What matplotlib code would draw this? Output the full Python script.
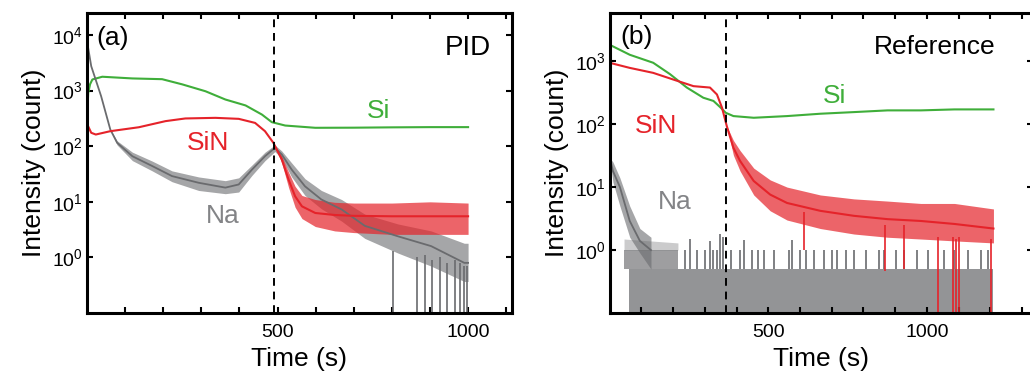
import matplotlib.pyplot as plt
from matplotlib.ticker import NullLocator

plt.rcParams['font.family'] = ['Liberation Sans', 'DejaVu Sans']

GREEN = '#3fae3a'
RED = '#e5232a'
GRAY = '#6a6b6e'

# ---------------- panel (a) : PID ----------------
si_a_t = [0, 3, 8, 14, 40, 119, 197, 250, 311, 363, 416, 459, 485, 520, 599, 700, 800, 900, 1000]
si_a = [300, 900, 1300, 1580, 1770, 1650, 1600, 1290, 970, 690, 540, 370, 270, 235, 214, 215, 218, 220, 220]

sin_a_t = [0, 2, 11, 23, 61, 136, 206, 258, 337, 398, 441, 467, 489, 511, 529, 546, 564, 599, 650, 700, 800, 900, 1000]
sin_a = [20, 235, 174, 162, 186, 219, 282, 315, 323, 310, 262, 186, 115, 58, 25, 12.6, 8.3, 6.3, 5.8, 5.6, 5.5, 5.5, 5.5]
sin_a_lo = [20, 235, 174, 162, 186, 219, 282, 315, 323, 310, 262, 186, 115, 50, 18, 8, 5, 3.6, 3.0, 2.8, 2.6, 2.6, 2.6]
sin_a_hi = [20, 235, 174, 162, 186, 219, 282, 315, 323, 310, 262, 186, 115, 66, 34, 19, 13, 11, 9.8, 9.5, 9.5, 10, 9.5]

na_a_t = [0, 11, 37, 61, 79, 119, 171, 223, 293, 363, 398, 433, 467, 493, 511, 537, 572, 615, 668, 729, 816, 903, 990, 1000]
na_a = [7700, 2740, 790, 200, 115, 66, 44, 29, 22, 18, 20.5, 38, 66, 93, 71, 38, 19, 11, 7.3, 3.7, 2.4, 1.6, 0.8, 0.8]
na_a_lo = [7700, 2740, 790, 200, 105, 55, 36, 23, 16, 14, 15, 30, 55, 80, 60, 28, 13, 7.5, 4.5, 2.2, 1.2, 0.7, 0.37, 0.37]
na_a_hi = [7700, 2740, 790, 200, 125, 78, 54, 36, 28, 24, 27, 46, 78, 105, 82, 50, 26, 16, 11, 6, 4, 3, 1.8, 1.8]
# points where the Na trace drops to zero counts
na_a_drop_t = [804, 865, 887, 904, 926, 944, 966, 979, 988, 997]
na_a_drop_top = [1.3, 1.0, 1.1, 0.9, 1.0, 0.8, 0.9, 0.8, 0.7, 0.7]
dash_a = 490

# ---------------- panel (b) : Reference ----------------
si_b_t = [0, 8, 63, 137, 190, 243, 295, 327, 348, 366, 390, 454, 559, 664, 770, 876, 981, 1087, 1210]
si_b = [1800, 1730, 1260, 940, 620, 380, 262, 233, 186, 151, 134, 126, 134, 146, 155, 165, 165, 171, 171]

sin_b_t = [0, 3, 63, 137, 200, 264, 316, 338, 354, 369, 390, 411, 454, 506, 559, 664, 770, 876, 981, 1087, 1210]
sin_b = [250, 930, 780, 650, 510, 400, 380, 295, 182, 93, 42, 26, 12.5, 7.6, 5.6, 4.2, 3.5, 3.1, 2.9, 2.6, 2.2]
sin_b_lo = [250, 930, 780, 650, 510, 400, 380, 295, 182, 93, 32, 18, 7.5, 4.2, 3.0, 2.2, 1.8, 1.6, 1.5, 1.4, 1.3]
sin_b_hi = [250, 930, 780, 650, 510, 400, 380, 295, 182, 93, 55, 38, 20, 13, 10, 7.5, 6.5, 6.0, 5.5, 5.5, 4.5]
sin_b_drop_t = [612, 867, 927, 1035, 1082, 1092, 1101, 1203]
sin_b_drop_bot = [1.0, 0.47, 0.5, 0.1, 0.1, 0.1, 0.1, 0.1]
sin_b_drop_top = [4, 2.5, 2.5, 1.6, 1.6, 1.5, 1.6, 1.5]

na_b_t = [0, 10, 32, 63, 95, 130]
na_b = [29, 18, 10, 2.9, 1.4, 1.0]
na_b_lo = [29, 12, 5, 1.6, 0.9, 0.5]
na_b_hi = [29, 25, 14, 5, 2.2, 1.6]
# zero / half-count floor of the Na trace and its spikes to one count
na_b_floor_t = [60, 1210]
na_b_floor = [0.5, 0.5]
na_b_dense_t = [45, 215]
na_b_dense = [1.0, 1.0]
na_b_upper = [1.5, 1.3]
na_b_spike_t = [237, 253, 275, 301, 316, 326, 339, 348, 358, 383, 411, 424, 448, 469, 485, 517, 564, 575, 601,
                620, 643, 675, 701, 717, 744, 770, 807, 849, 865, 902, 928, 970, 1003, 1055, 1086, 1129, 1171, 1192]
na_b_spike_top = [1.0, 1.5, 1.0, 1.0, 1.4, 1.0, 1.0, 1.8, 1.6, 1.0, 1.0, 1.45, 1.0, 1.0, 1.0, 1.0, 1.0, 1.45, 1.0,
                  1.0, 1.0, 1.0, 1.0, 1.0, 1.0, 1.0, 1.0, 1.0, 1.0, 1.0, 1.0, 1.0, 1.0, 1.0, 1.0, 1.0, 1.0, 1.0]
dash_b = 367

x_ticks = [100, 200, 300, 400, 500, 600, 700, 800, 900, 1000, 1100, 1200, 1300]
x_labels = ['', '', '', '', '500', '', '', '', '', '1000', '', '', '']
y_ticks = [1, 10, 100, 1000, 10000]
y_labels = [r'$\mathregular{10^{0}}$', r'$\mathregular{10^{1}}$', r'$\mathregular{10^{2}}$',
            r'$\mathregular{10^{3}}$', r'$\mathregular{10^{4}}$']

fig = plt.figure(figsize=(10.3, 3.88), dpi=100)
ax_a = fig.add_axes([0.0845, 0.193, 0.4125, 0.773])
ax_b = fig.add_axes([0.592, 0.193, 0.411, 0.773])


def style(ax, xmax, ytop):
    ax.set_yscale('log')
    ax.set_xticks(x_ticks, x_labels)
    ax.set_yticks(y_ticks, y_labels)
    ax.yaxis.set_minor_locator(NullLocator())
    ax.tick_params(direction='in', top=True, right=True, length=4.5, width=1.5, labelsize=14)
    ax.tick_params(axis='x', pad=8)
    ax.tick_params(axis='y', pad=3)
    ax.set_xlim(0, xmax)
    ax.set_ylim(0.1, ytop)
    for s in ax.spines.values():
        s.set_linewidth(2.2)
    ax.set_xlabel('Time (s)', fontsize=19, labelpad=4)
    ax.set_ylabel('Intensity (count)', fontsize=19, labelpad=4)


# panel (a)
ax = ax_a
ax.plot(si_a_t, si_a, color=GREEN, lw=1.5)
ax.fill_between(na_a_t, na_a_lo, na_a_hi, color=GRAY, alpha=0.6, lw=0)
ax.plot(na_a_t, na_a, color=GRAY, lw=1.3)
ax.vlines(na_a_drop_t, 0.1, na_a_drop_top, color=GRAY, lw=1.2)
ax.fill_between(sin_a_t, sin_a_lo, sin_a_hi, color=RED, alpha=0.7, lw=0)
ax.plot(sin_a_t, sin_a, color=RED, lw=1.5)
ax.axvline(dash_a, color='black', lw=1.4, ls=(0, (4, 3)))
style(ax, 1115, 10 ** 4.39)
ax.text(24, 6600, '(a)', fontsize=19, va='baseline')
ax.text(1060, 4400, 'PID', fontsize=20, ha='right', va='baseline')
ax.text(733, 325, 'Si', fontsize=19, color=GREEN, va='baseline')
ax.text(262, 87, 'SiN', fontsize=19, color=RED, va='baseline')
ax.text(312, 4.1, 'Na', fontsize=19, color='#838487', va='baseline')

# panel (b)
ax = ax_b
ax.plot(si_b_t, si_b, color=GREEN, lw=1.5)
ax.fill_between(na_b_floor_t, 0.1, na_b_floor, color=GRAY, alpha=0.72, lw=0)
ax.fill_between(na_b_dense_t, 0.5, na_b_dense, color=GRAY, alpha=0.65, lw=0)
ax.fill_between(na_b_dense_t, na_b_dense, na_b_upper, color=GRAY, alpha=0.35, lw=0)
ax.fill_between(na_b_t, na_b_lo, na_b_hi, color=GRAY, alpha=0.6, lw=0)
ax.plot(na_b_t, na_b, color=GRAY, lw=1.3)
ax.vlines(na_b_spike_t, 0.5, na_b_spike_top, color=GRAY, lw=1.2)
ax.fill_between(sin_b_t, sin_b_lo, sin_b_hi, color=RED, alpha=0.7, lw=0)
ax.plot(sin_b_t, sin_b, color=RED, lw=1.5)
ax.vlines(sin_b_drop_t, sin_b_drop_bot, sin_b_drop_top, color=RED, lw=1.2)
ax.axvline(dash_b, color='black', lw=1.4, ls=(0, (4, 3)))
style(ax, 1335, 10 ** 3.76)
ax.text(32, 1860, '(b)', fontsize=19, va='baseline')
ax.text(832, 1290, 'Reference', fontsize=19, va='baseline')
ax.text(671, 215, 'Si', fontsize=19, color=GREEN, va='baseline')
ax.text(79, 72, 'SiN', fontsize=19, color=RED, va='baseline')
ax.text(152, 4.5, 'Na', fontsize=19, color='#838487', va='baseline')

fig.savefig('out.png', dpi=100)
